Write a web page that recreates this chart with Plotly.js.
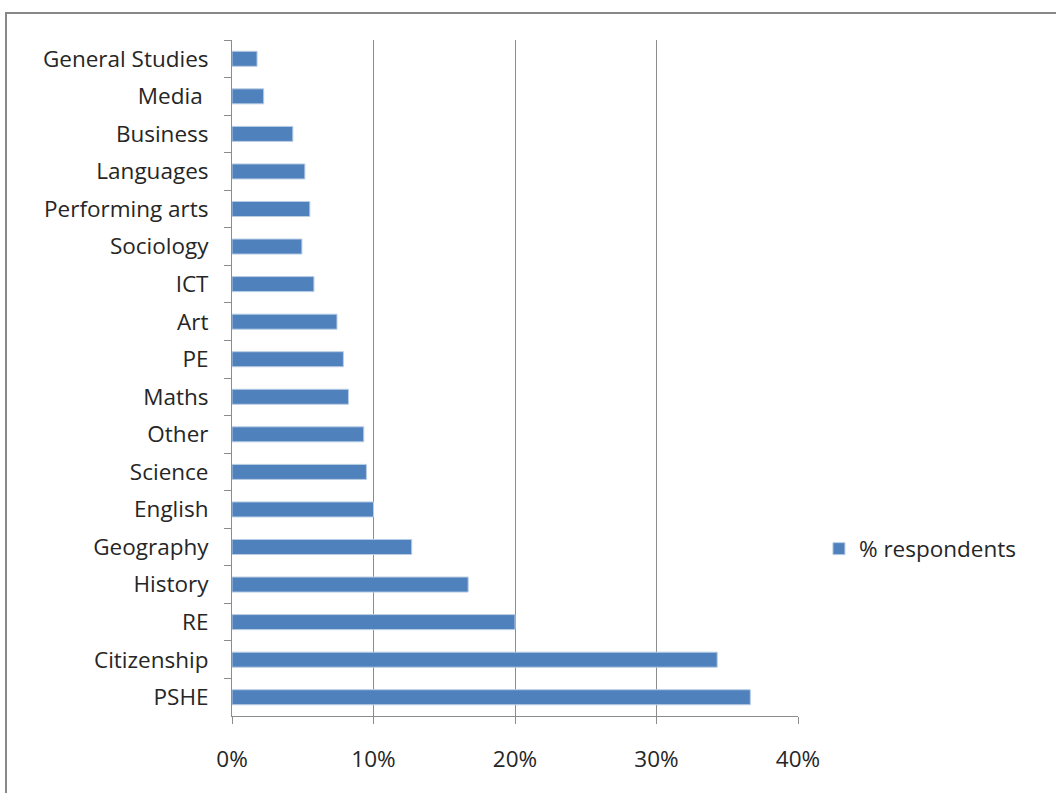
<!DOCTYPE html>
<html>
<head>
<meta charset="utf-8">
<script src="https://cdn.plot.ly/plotly-3.0.1.min.js"></script>
<style>
  html, body { margin: 0; padding: 0; background: #fff; overflow: hidden; }
  #frame { position: absolute; left: 5px; top: 12px; width: 1100px; height: 800px; border: 2px solid #888; box-sizing: border-box; }
  #chart { position: absolute; left: 0; top: 0; width: 1056px; height: 793px; }
</style>
</head>
<body>
<div id="frame"></div>
<div id="chart"></div>
<script>
const subjects = ["General Studies", "Media ", "Business", "Languages", "Performing arts", "Sociology", "ICT", "Art", "PE", "Maths", "Other", "Science", "English", "Geography", "History", "RE", "Citizenship", "PSHE"];
const respondents = [0.0177, 0.0224, 0.0430, 0.0515, 0.0550, 0.0494, 0.0579, 0.0742, 0.0787, 0.0823, 0.0931, 0.0950, 0.1000, 0.1270, 0.1669, 0.2000, 0.3429, 0.3663];
const seriesName = "% respondents";
const xTicks = [0, 0.1, 0.2, 0.3, 0.4];
const xTickText = ["0%", "10%", "20%", "30%", "40%"];

const fontFam = "'Open Sans', 'Noto Sans', sans-serif";
const txt = { family: fontFam, size: 22.5, color: "#262626" };

Plotly.newPlot("chart", [{
  type: "bar",
  orientation: "h",
  y: subjects,
  x: respondents,
  name: seriesName,
  showlegend: true,
  marker: { color: "#4F81BD", line: { color: "#B9CDE5", width: 1 } },
  hoverinfo: "x+y"
}], {
  width: 1056, height: 793,
  paper_bgcolor: "rgba(0,0,0,0)",
  plot_bgcolor: "rgba(0,0,0,0)",
  margin: { l: 232, r: 258, t: 40, b: 77, pad: 0 },
  bargap: 0.6,
  font: txt,
  xaxis: {
    range: [0, 0.4],
    tickvals: xTicks, ticktext: xTickText,
    showgrid: true, gridcolor: "#8c8c8c", gridwidth: 1,
    zeroline: false,
    showline: true, linecolor: "#8c8c8c", linewidth: 1,
    ticks: "outside", ticklen: 7, tickcolor: "#8c8c8c",
    ticklabelstandoff: 16,
    tickfont: txt,
    fixedrange: true
  },
  yaxis: {
    type: "category",
    autorange: "reversed",
    showgrid: false, zeroline: false,
    showline: true, linecolor: "#8c8c8c", linewidth: 1,
    ticks: "outside", ticklen: 7, tickcolor: "#8c8c8c",
    tickson: "boundaries",
    ticklabelstandoff: 18,
    tickfont: txt,
    fixedrange: true
  },
  legend: {
    x: 1.037, xanchor: "left", y: 0.247, yanchor: "middle",
    font: txt,
    bgcolor: "rgba(0,0,0,0)",
    itemwidth: 30
  }
}, { displayModeBar: false, staticPlot: true });
</script>
</body>
</html>
